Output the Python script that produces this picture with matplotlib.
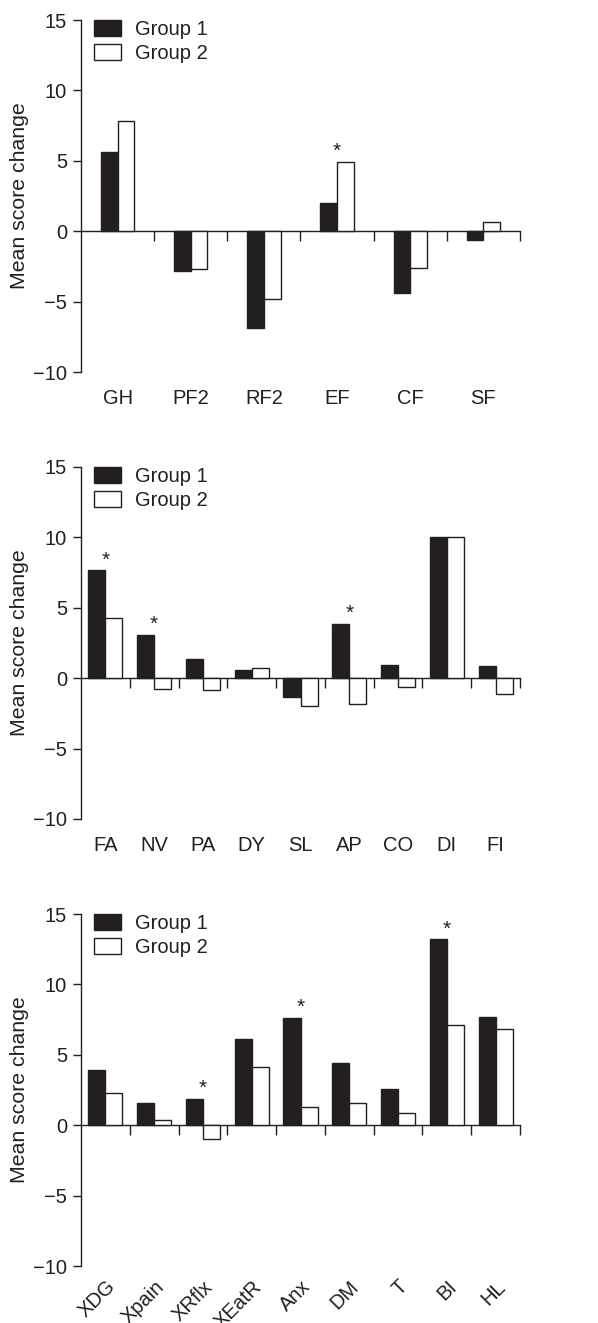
import numpy as np
import matplotlib
matplotlib.use('Agg')
import matplotlib.pyplot as plt

plt.rcParams['font.family'] = ['Liberation Sans', 'DejaVu Sans']

INK = '#231f20'

# panel 1
cats1 = ["GH", "PF2", "RF2", "EF", "CF", "SF"]
g1_p1 = [5.6, -2.8, -6.9, 2.0, -4.4, -0.6]
g2_p1 = [7.8, -2.7, -4.8, 4.9, -2.6, 0.65]
stars1 = [False, False, False, True, False, False]

# panel 2
cats2 = ["FA", "NV", "PA", "DY", "SL", "AP", "CO", "DI", "FI"]
g1_p2 = [7.65, 3.1, 1.35, 0.6, -1.35, 3.85, 0.95, 10.0, 0.9]
g2_p2 = [4.25, -0.8, -0.85, 0.75, -1.95, -1.85, -0.6, 10.0, -1.15]
stars2 = [True, True, False, False, False, True, False, False, False]

# panel 3
cats3 = ["XDG", "Xpain", "XRflx", "XEatR", "Anx", "DM", "T", "BI", "HL"]
g1_p3 = [3.9, 1.55, 1.85, 6.1, 7.6, 4.45, 2.6, 13.2, 7.7]
g2_p3 = [2.3, 0.35, -1.0, 4.1, 1.3, 1.6, 0.85, 7.1, 6.85]
stars3 = [False, False, True, False, True, False, False, True, False]

yticks = [-10, -5, 0, 5, 10, 15]

W, H = 598, 1323
FS = 14.5
fig = plt.figure(figsize=(W / 100, H / 100), dpi=100)


def panel(rect, cats, g1, g2, stars, width, rotate=False):
    ax = fig.add_axes(rect)
    n = len(cats)
    x = np.arange(n)
    ax.bar(x - width / 2, g1, width, color=INK, edgecolor=INK, linewidth=1.0, label="Group 1", zorder=2)
    ax.bar(x + width / 2, g2, width, color='white', edgecolor=INK, linewidth=1.0, label="Group 2", zorder=2)
    for i, s in enumerate(stars):
        if s:
            top = max(g1[i], g2[i])
            ax.text(i, top + 0.35, "*", ha='center', va='baseline', fontsize=15, color=INK)

    ax.set_xlim(-0.5, n - 0.5)
    ax.set_ylim(-10, 15)
    ax.set_yticks(yticks)
    ax.tick_params(axis='y', direction='out', length=6, width=1, colors=INK, labelsize=FS, pad=4)
    ax.set_ylabel("Mean score change", fontsize=15.3, color=INK, labelpad=3)

    for sp in ['top', 'right', 'bottom']:
        ax.spines[sp].set_visible(False)
    ax.spines['left'].set_color(INK)
    ax.spines['left'].set_linewidth(1)

    ax.set_xticks(x)
    if rotate:
        ax.set_xticklabels(cats, rotation=45, ha='right', va='top', rotation_mode='anchor')
        ax.tick_params(axis='x', length=0, labelsize=FS, colors=INK, pad=8)
    else:
        ax.set_xticklabels(cats)
        ax.tick_params(axis='x', length=0, labelsize=FS, colors=INK, pad=12)

    # zero line with category boundary ticks
    zero = ax.secondary_xaxis(10 / 25)
    zero.set_xticks(np.arange(n) + 0.5)
    zero.set_xticklabels([])
    zero.tick_params(axis='x', direction='out', length=7, width=1, colors=INK)
    zero.spines['bottom'].set_color(INK)
    zero.spines['bottom'].set_linewidth(1)

    ax.legend(loc='upper left', bbox_to_anchor=(0.03, 1.0), frameon=False, fontsize=FS,
              borderpad=0, borderaxespad=0, handlelength=1.35, handleheight=0.85,
              handletextpad=0.7, labelspacing=0.25, labelcolor=INK)
    return ax


left = 81 / W
width = (520 - 81) / W
ph = 352 / H
panel([left, 1 - 372 / H, width, ph], cats1, g1_p1, g2_p1, stars1, 0.228)
panel([left, 1 - 819 / H, width, ph], cats2, g1_p2, g2_p2, stars2, 0.35)
panel([left, 1 - 1266 / H, width, ph], cats3, g1_p3, g2_p3, stars3, 0.35, rotate=True)

fig.savefig("out.png", dpi=100)
